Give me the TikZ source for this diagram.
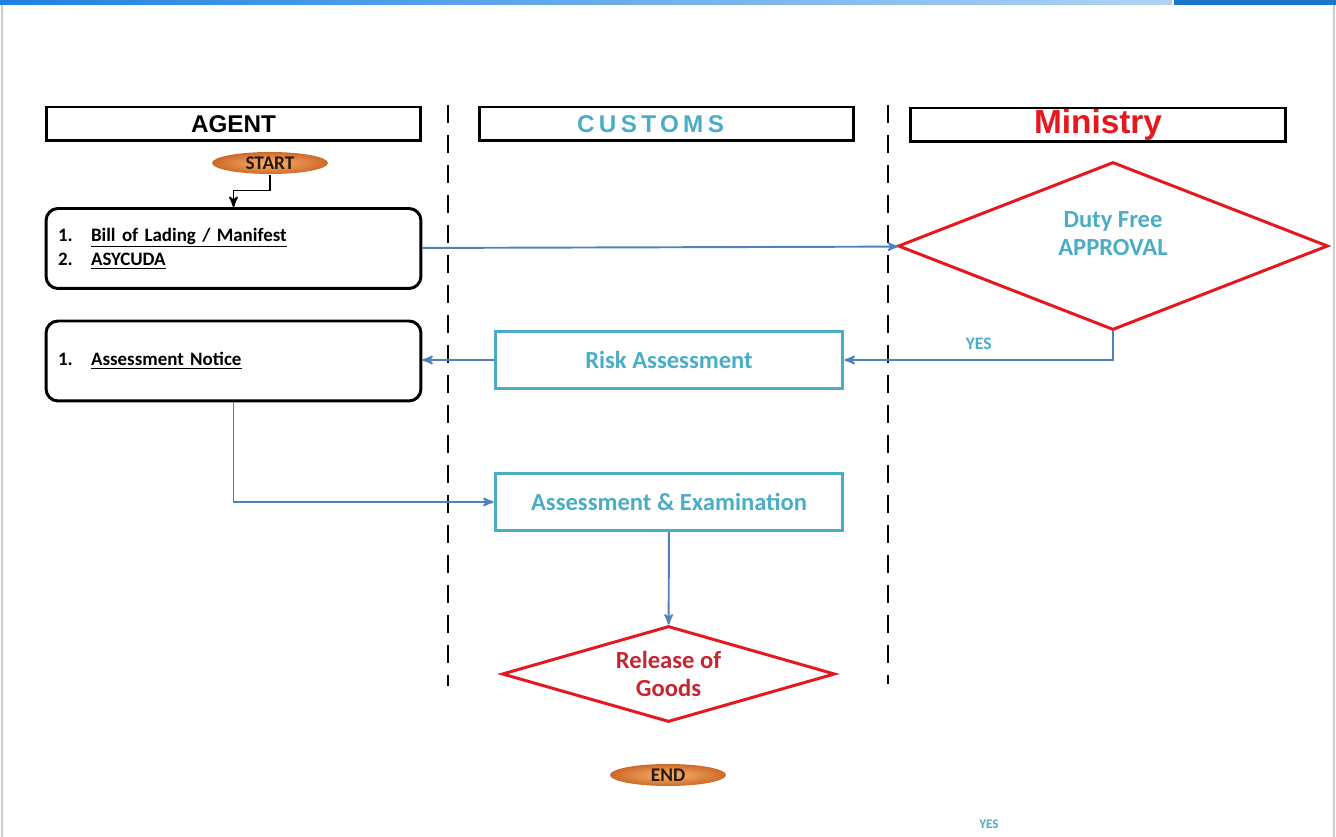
\documentclass[tikz,border=0pt]{standalone}
\usepackage{fontspec}
\setmainfont{Carlito}
\newfontfamily\headfont{Liberation Sans}
\usepackage{tikz}
\usetikzlibrary{shapes,arrows}

\definecolor{lanered}{RGB}{228,24,30}
\definecolor{goodsred}{RGB}{196,38,50}
\definecolor{custteal}{RGB}{75,172,198}
\definecolor{linkblue}{RGB}{79,129,189}
\definecolor{barblue}{RGB}{30,130,225}
\definecolor{termlight}{RGB}{250,180,110}
\definecolor{termdark}{RGB}{205,105,40}

\begin{document}
\begin{tikzpicture}[x=0.02cm,y=-0.02cm,>=stealth',semithick]
\tikzstyle{header}=[draw=black,line width=1.7pt,minimum width=7.5cm,minimum height=0.68cm,inner sep=0pt,font=\headfont\bfseries\fontsize{13.8}{13.8}\selectfont]
\tikzstyle{term}=[ellipse,inner color=termlight,outer color=termdark,minimum width=2.32cm,minimum height=0.44cm,inner sep=0pt,text=black!80!brown,font=\bfseries\fontsize{11}{11}\selectfont]
\tikzstyle{docs}=[draw=black,line width=1.7pt,rounded corners=0.24cm,minimum height=1.6cm,text width=7.02cm,inner xsep=0.24cm,align=left,font=\bfseries\fontsize{10.8}{14}\selectfont]
\tikzstyle{task}=[draw=custteal,line width=1.7pt,minimum width=6.96cm,minimum height=1.14cm,text=custteal,font=\bfseries\fontsize{14}{14}\selectfont]
\tikzstyle{check}=[diamond,draw=lanered,line width=1.7pt,inner sep=0pt,aspect=3.5,align=center,font=\bfseries\fontsize{14}{16}\selectfont]
\tikzstyle{link}=[->,draw=linkblue,line width=1.1pt]
\tikzstyle{lane}=[line width=1.4pt,dash pattern=on 0.36cm off 0.24cm]

\useasboundingbox (0,0) rectangle (1336,837);
% slide frame
\shade[left color=barblue,right color=barblue!35] (0,0) rectangle (1172,5);
\fill[barblue!90!black] (1174,0) rectangle (1336,5);
\draw[gray!40] (2,5) -- (2,837) (1334,5) -- (1334,837);

% swim lanes
\node[header] (agent) at (233.5,124) {AGENT};
\node[header,text=custteal] (customs) at (666.5,124) {\addfontfeature{LetterSpace=18}CUSTOMS\kern0.64cm};
\node[header,text=lanered,font=\headfont\bfseries\fontsize{19}{19}\selectfont] (ministry) at (1098,125) {Ministry};
\coordinate (laneAtop) at (448,105);
\coordinate (laneAbot) at (448,686);
\coordinate (laneBtop) at (888,105);
\coordinate (laneBbot) at (888,684);
\draw[lane] (laneAtop) -- (laneAbot);
\draw[lane] (laneBtop) -- (laneBbot);

% steps
\node[term] (start) at (270,163) {START};
\node[docs] (bill) at (233.5,248.5) {\makebox[0.66cm][l]{1.}\underline{Bill of Lading / Manifest}\\ \makebox[0.66cm][l]{2.}\underline{ASYCUDA}};
\node[check,minimum width=8.6cm,minimum height=3.36cm,text=custteal,text depth=0.5cm] (duty) at (1113,246) {Duty Free\\APPROVAL};
\node[task] (risk) at (669,360) {Risk Assessment};
\node[docs] (notice) at (233.5,361) {\makebox[0.66cm][l]{1.}\underline{Assessment Notice}};
\node[task] (exam) at (669,502) {Assessment \& Examination};
\node[check,minimum width=6.66cm,minimum height=1.92cm,text=goodsred] (release) at (668.5,674) {Release of\\Goods};
\node[term] (end) at (668,775) {END};
\node[text=custteal,font=\bfseries\fontsize{7.5}{7.5}\selectfont] (yes2) at (989,824) {YES};

% flow
\draw[->,line width=1.1pt] (start.south) -- ++(0,16) -| (bill.north);
\draw[link] (bill) -- (duty);
\draw[link] (duty.south) |- node[pos=0.75,above,yshift=2pt,text=custteal,font=\bfseries\fontsize{10}{10}\selectfont]{YES} (risk.east);
\draw[link] (risk.west) -- (risk.west -| notice.east);
\draw[link] (notice.south) |- (exam.west);
\draw[link] (exam) -- (release);
\end{tikzpicture}
\end{document}
